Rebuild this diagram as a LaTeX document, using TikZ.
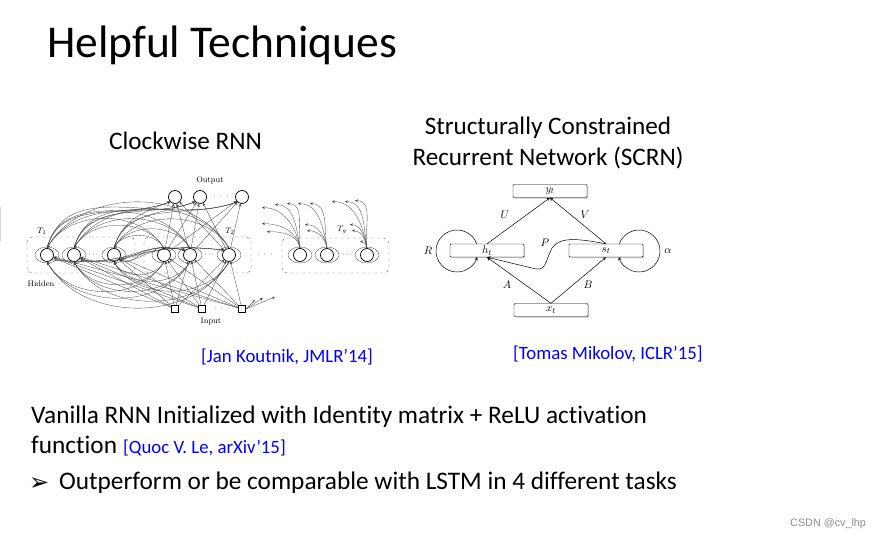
\documentclass[tikz,border=0pt]{standalone}
\usepackage{amsmath,amssymb}
\usepackage{fontspec}
\setsansfont{Carlito}[Ligatures={NoCommon,NoDiscretionary,NoContextual}]
\newfontfamily\dejavu{DejaVu Sans}
\newfontfamily\wmfont{Liberation Sans}
\usepackage{tikz}
\usetikzlibrary{arrows,shadows,positioning}
\definecolor{citeblue}{RGB}{0,0,255}

\tikzset{
  unit/.style={circle,draw,fill=white,line width=0.7pt,minimum size=13pt,inner sep=0pt},
  inp/.style={draw,fill=white,line width=0.6pt,minimum size=7pt,inner sep=0pt},
  wire/.style={line width=0.3pt,black!75,-stealth},
  selfloop/.style={line width=0.3pt,black!75},
  modbox/.style={draw=black!60,dashed,line width=0.4pt,rounded corners=5pt},
  cell/.style={draw,fill=white,line width=0.4pt,rounded corners=1pt,minimum width=74pt,
    minimum height=13pt,inner sep=0pt,font=\fontsize{11}{11}\selectfont,
    drop shadow={shadow xshift=1.2pt,shadow yshift=-1.2pt,fill=black!45}},
  conn/.style={-stealth,line width=0.5pt},
  wlabel/.style={font=\fontsize{11}{11}\selectfont,inner sep=0pt},
  slide/.style={font=\sffamily\fontsize{#1}{#1}\selectfont,inner sep=0pt,anchor=base west},
  slidemid/.style={font=\sffamily\fontsize{#1}{#1}\selectfont,inner sep=0pt,anchor=base},
  citetext/.style={font=\sffamily\fontsize{#1}{#1}\selectfont,text=citeblue,inner sep=0pt,anchor=base west},
  fig/.style={font=\fontsize{8}{9}\selectfont,inner sep=0pt}
}

\begin{document}
\begin{tikzpicture}[x=1pt,y=1pt]
\useasboundingbox[fill=white] (0,0) rectangle (882,-535);
\draw[black!15,line width=1pt] (0.5,-207) -- (0.5,-242);

% slide text
\node[slide=45.5] (title) at (47,-57) {Helpful Techniques};
\node[slidemid=25.2] (cwtitle) at (185.5,-149) {Clockwise RNN};
\node[slidemid=25.2] (sctitle) at (548,-134) {Structurally Constrained};
\node[slidemid=25.2] (sctitle2) at (548,-165) {Recurrent Network (SCRN)};
\node[citetext=18.8] (cwcite) at (201,-362) {[Jan Koutnik, JMLR’14]};
\node[citetext=18.8] (sccite) at (513,-359) {[Tomas Mikolov, ICLR’15]};
\node[slide=25.3] (line1) at (31,-423) {Vanilla RNN Initialized with Identity matrix + ReLU activation};
\node[slide=25.3] (line2) at (31,-453) {function};
\node[citetext=18.8] (lecite) at (123,-453) {[Quoc V. Le, arXiv’15]};
\node[font=\dejavu\fontsize{24}{24}\selectfont,inner sep=0pt,anchor=base west] (bul) at (29,-490) {➢};
\node[slide=25.3] (line3) at (59,-489) {Outperform or be comparable with LSTM in 4 different tasks};
\node[font=\wmfont\fontsize{10.8}{10.8}\selectfont,text=black!45,inner sep=0pt,anchor=base west] (wm) at (790,-526) {CSDN @cv\_lhp};

% clockwork RNN
\draw[modbox] (27,-237) rectangle (135,-273);
\draw[modbox] (144,-237) rectangle (251,-273);
\draw[modbox] (282,-238) rectangle (389,-273);
\foreach \x in {47,74,114,164,190,229,300,327,367}
  \draw[selfloop] (\x,-255) ellipse [x radius=12, y radius=8];
\foreach \n/\x in {h11/47,h12/74,h13/114,h21/164,h22/190,h23/229,hg1/300,hg2/327,hg3/367}
  \node[unit] (\n) at (\x,-255) {};
\foreach \n/\x in {o1/175,o2/200,o3/242}
  \node[unit] (\n) at (\x,-197) {};
\foreach \n/\x in {i1/175,i2/202,i3/242}
  \node[inp] (\n) at (\x,-309) {};
\node[fig] (d1) at (94,-255) {$\cdots$};
\node[fig] (d2) at (210,-255) {$\cdots$};
\node[fig] (d3) at (348,-255) {$\cdots$};
\node[fig] (d4) at (265,-255) {$\cdot\;\cdot\;\cdot$};
\node[fig] (d5) at (221,-197) {$\cdot\;\cdot\;\cdot$};
\node[fig] (d6) at (222,-309) {$\cdot\;\cdot\;\cdot$};
\node[fig] (outlbl) at (210,-180) {Output};
\node[fig] (inlbl) at (211,-322) {Input};
\node[fig] (hidlbl) at (41,-284) {Hidden};
\node[fig] (t1) at (42,-231) {$T_1$};
\node[fig] (t2) at (230,-231) {$T_2$};
\node[fig] (tg) at (342,-230) {$T_g$};

\foreach \i in {i1,i2,i3}
  \foreach \h in {h11,h12,h13,h21,h22,h23}
    \draw[wire] (\i) -- (\h);
\foreach \h in {h21,h22,h23}
  \foreach \o in {o1,o2,o3}
    \draw[wire] (\h) -- (\o);
\foreach \h in {h11,h12,h13}
  \foreach \o in {o1,o2,o3}
    \draw[wire] (\h.north) to[out=75,in=200] (\o.south west);
\foreach \s in {h21,h22,h23}
  \foreach \f in {h11,h12,h13} {
    \draw[wire] (\s.north) to[out=120,in=60] (\f.north);
    \draw[wire] (\s.south) to[out=-120,in=-60] (\f.south);
  }
\foreach \f in {h11,h12,h13}
  \foreach \s in {h22,h23}
    \draw[wire] (\f.south east) .. controls (140,-268) and (135,-240) .. (\s.north west);
\foreach \dx/\dy in {-38/40.5,-25/43.5,-13/44.5,-38/24.5,-33/16.5}
  \draw[wire] (hg1.north) to[out=100,in=0] +(\dx,\dy);
\foreach \dx/\dy in {-29/44.5,-17/44.5,-22/23.5,-20/17.5}
  \draw[wire] (hg2.north) to[out=100,in=0] +(\dx,\dy);
\foreach \dx/\dy in {-35/46.5,-22/46.5,-12/47.5,-17/23.5,-15/17.5,-7/6.5}
  \draw[wire] (hg3.north) to[out=100,in=0] +(\dx,\dy);
\foreach \dx/\dy in {9/9,17/11,29/12}
  \draw[wire] (i3.east) -- +(\dx,\dy);

% SCRN
\node[cell] (yt) at (550,-191) {$y_t$};
\node[cell] (ht) at (487,-250.5) {$h_t$};
\node[cell] (st) at (606,-250.5) {$s_t$};
\node[cell] (xt) at (551,-310) {$x_t$};
\draw[conn] (ht.north) -- (yt.south);
\draw[conn] (st.north) -- (yt.south);
\draw[conn] (xt.north) -- (ht.south);
\draw[conn] (xt.north) -- (st.south);
\draw[conn] (st.north) .. controls (580,-239) and (560,-236) .. (552,-248)
  .. controls (545,-262) and (546,-270) .. (536,-269) -- (ht.south);
\coordinate (rc) at (457,-251);
\coordinate (ac) at (639,-251);
\draw[conn] ([shift={(19.5:21)}]rc) arc[start angle=19.5,end angle=343.4,radius=21];
\draw[conn] ([shift={(160.5:21)}]ac) arc[start angle=160.5,end angle=-163.4,radius=21];
\node[wlabel] (lu) at (505,-215) {$U$};
\node[wlabel] (lv) at (585,-215) {$V$};
\node[wlabel] (la) at (507,-285) {$A$};
\node[wlabel] (lb) at (588,-285) {$B$};
\node[wlabel] (lp) at (545,-243) {$P$};
\node[wlabel] (lr) at (428,-251) {$R$};
\node[wlabel] (lal) at (668,-251) {$\alpha$};
\end{tikzpicture}
\end{document}
